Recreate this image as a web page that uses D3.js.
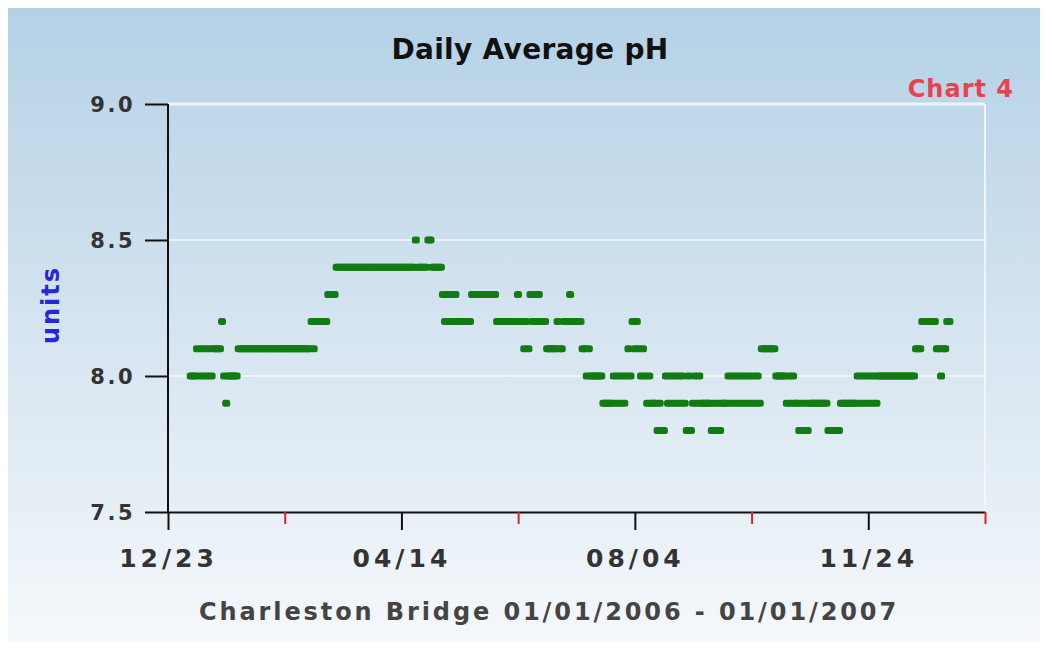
<!DOCTYPE html>
<html>
<head>
<meta charset="utf-8">
<script src="https://cdn.jsdelivr.net/npm/d3@7/dist/d3.min.js"></script>
<style>
  html, body { margin: 0; padding: 0; background: #ffffff; }
  svg { display: block; }
  text { font-family: "DejaVu Sans", Verdana, sans-serif; font-weight: bold; }
</style>
</head>
<body>
<svg id="chart" width="1046" height="649"></svg>
<script>
// ---- Data: daily average pH, Charleston Bridge, 2006 (one value per day) ----
const startDate = "2006-01-01";
const phJan = [8.0,8.0,8.0,8.1,8.0,8.1,8.0,8.1,8.0,8.1,8.0,8.1,8.1,8.1,8.1,8.2,8.0,7.9,8.0,8.0,8.0,8.0,8.0,8.1,8.1,8.1,8.1,8.1,8.1,8.1,8.1];
const phFeb = [8.1,8.1,8.1,8.1,8.1,8.1,8.1,8.1,8.1,8.1,8.1,8.1,8.1,8.1,8.1,8.1,8.1,8.1,8.1,8.1,8.1,8.1,8.1,8.1,8.1,8.1,8.1,8.2];
const phMar = [8.1,8.2,8.2,8.2,8.2,8.2,8.2,8.3,8.3,8.3,8.3,8.4,8.4,8.4,8.4,8.4,8.4,8.4,8.4,8.4,8.4,8.4,8.4,8.4,8.4,8.4,8.4,8.4,8.4,8.4,8.4];
const phApr = [8.4,8.4,8.4,8.4,8.4,8.4,8.4,8.4,8.4,8.4,8.4,8.4,8.4,8.4,8.4,8.4,8.4,8.4,8.5,8.4,8.4,8.4,8.4,8.4,8.5,8.5,8.4,8.4,8.4,8.4];
const phMay = [8.4,8.3,8.2,8.3,8.2,8.3,8.2,8.3,8.2,8.2,8.2,8.2,8.2,8.2,8.2,8.3,8.3,8.3,8.3,8.3,8.3,8.3,8.3,8.3,8.3,8.3,8.3,8.2,8.2,8.2,8.2];
const phJun = [8.2,8.2,8.2,8.2,8.2,8.2,8.3,8.2,8.2,8.1,8.2,8.1,8.3,8.2,8.3,8.2,8.3,8.2,8.2,8.2,8.1,8.1,8.1,8.1,8.1,8.2,8.1,8.1,8.2,8.2];
const phJul = [8.2,8.3,8.2,8.2,8.2,8.2,8.2,8.1,8.1,8.0,8.1,8.0,8.0,8.0,8.0,8.0,8.0,7.9,7.9,7.9,7.9,7.9,8.0,7.9,8.0,7.9,8.0,7.9,8.0,8.1,8.0];
const phAug = [8.2,8.1,8.2,8.1,8.0,8.1,8.0,7.9,8.0,7.9,7.9,7.9,7.8,7.9,7.8,7.8,8.0,7.9,8.0,7.9,8.0,7.9,8.0,7.9,8.0,7.9,7.8,8.0,7.8,7.9,8.0];
const phSep = [7.9,8.0,7.9,7.9,7.9,7.9,7.9,7.8,7.9,7.8,7.9,7.8,7.9,7.9,7.9,8.0,7.9,8.0,7.9,8.0,7.9,8.0,7.9,8.0,7.9,8.0,7.9,8.0,7.9,8.0];
const phOct = [7.9,8.1,8.1,8.1,8.1,8.1,8.1,8.1,8.0,8.0,8.0,8.0,8.0,7.9,8.0,7.9,8.0,7.9,7.9,7.8,7.9,7.8,7.9,7.8,7.9,7.9,7.9,7.9,7.9,7.9,7.9];
const phNov = [7.9,7.9,7.8,7.8,7.8,7.8,7.8,7.8,7.9,7.9,7.9,7.9,7.9,7.9,7.9,7.9,8.0,7.9,8.0,7.9,8.0,7.9,8.0,7.9,8.0,7.9,8.0,8.0,8.0,8.0];
const phDec = [8.0,8.0,8.0,8.0,8.0,8.0,8.0,8.0,8.0,8.0,8.0,8.0,8.0,8.0,8.1,8.1,8.1,8.2,8.2,8.2,8.2,8.2,8.2,8.2,8.1,8.1,8.0,8.1,8.1,8.2,8.2];

const yTickValues = [7.5, 8.0, 8.5, 9.0];
const yGridValues = [8.0, 8.5];
const xMajorTicks = ["2005-12-23", "2006-04-14", "2006-08-04", "2006-11-24"];
const xMajorLabels = ["12/23", "04/14", "08/04", "11/24"];
const xMinorTicks = ["2006-02-17", "2006-06-09", "2006-09-29", "2007-01-19"];

const chartTitle = "Daily Average pH";
const chartTag = "Chart 4";
const yTitle = "units";
const xTitle = "Charleston Bridge 01/01/2006 - 01/01/2007";

// ---- Build daily records ----
const allValues = [].concat(phJan, phFeb, phMar, phApr, phMay, phJun, phJul, phAug, phSep, phOct, phNov, phDec);
const parse = d3.utcParse("%Y-%m-%d");
const t0 = parse(startDate);
const data = allValues.map((v, i) => ({ date: d3.utcDay.offset(t0, i), value: v }));

// ---- Layout ----
const W = 1046, H = 649;
const plot = { left: 168, right: 985, top: 104, bottom: 512 };

const svg = d3.select("#chart");
const defs = svg.append("defs");
const bg = defs.append("linearGradient").attr("id", "bgGrad").attr("x1", 0).attr("y1", 0).attr("x2", 0).attr("y2", 1);
bg.append("stop").attr("offset", "0%").attr("stop-color", "#b4d1e6");
bg.append("stop").attr("offset", "55%").attr("stop-color", "#d8e6f1");
bg.append("stop").attr("offset", "100%").attr("stop-color", "#f5f8fb");

svg.append("rect").attr("x", 0).attr("y", 0).attr("width", W).attr("height", H).attr("fill", "#ffffff");
svg.append("rect").attr("x", 8).attr("y", 8).attr("width", 1032).attr("height", 634).attr("fill", "url(#bgGrad)");

const x = d3.scaleUtc()
  .domain([parse("2005-12-23"), parse("2007-01-19")])
  .range([plot.left, plot.right]);
const y = d3.scaleLinear()
  .domain([7.5, 9.0])
  .range([plot.bottom, plot.top]);

// plot frame (light) and grid
svg.append("line").attr("x1", plot.left).attr("x2", plot.right).attr("y1", plot.top).attr("y2", plot.top)
  .attr("stroke", "#eef4fa").attr("stroke-width", 3);
svg.append("line").attr("x1", plot.right).attr("x2", plot.right).attr("y1", plot.top).attr("y2", plot.bottom)
  .attr("stroke", "#f2f6fa").attr("stroke-width", 2);
svg.append("g").selectAll("line").data(yGridValues).join("line")
  .attr("x1", plot.left).attr("x2", plot.right)
  .attr("y1", d => y(d)).attr("y2", d => y(d))
  .attr("stroke", "#ffffff").attr("stroke-opacity", 0.75).attr("stroke-width", 1.5);

// ---- Axes ----
const yAxis = d3.axisLeft(y).tickValues(yTickValues).tickFormat(d3.format(".1f")).tickSize(23).tickSizeOuter(0).tickPadding(10);
const gy = svg.append("g").attr("transform", `translate(${plot.left},0)`).call(yAxis);
gy.select(".domain").remove();
gy.selectAll(".tick line").attr("stroke", "#111").attr("stroke-width", 2);
gy.selectAll(".tick text").attr("fill", "#333").style("font-size", "21px").style("letter-spacing", "2.5px").attr("dy", "0.36em");

svg.append("line").attr("x1", plot.left).attr("x2", plot.left).attr("y1", plot.top).attr("y2", plot.bottom)
  .attr("stroke", "#111").attr("stroke-width", 2);

const xAxis = d3.axisBottom(x).tickValues(xMajorTicks.map(parse))
  .tickFormat((d, i) => xMajorLabels[i]).tickSize(18).tickSizeOuter(0).tickPadding(19);
const gx = svg.append("g").attr("transform", `translate(0,${plot.bottom})`).call(xAxis);
gx.select(".domain").attr("stroke", "#111").attr("stroke-width", 2);
gx.selectAll(".tick line").attr("stroke", "#111").attr("stroke-width", 2);
gx.selectAll(".tick text").attr("fill", "#333").style("font-size", "25px").style("letter-spacing", "4px");

const xMinor = d3.axisBottom(x).tickValues(xMinorTicks.map(parse)).tickFormat("").tickSize(12).tickSizeOuter(0);
const gm = svg.append("g").attr("transform", `translate(0,${plot.bottom})`).call(xMinor);
gm.select(".domain").remove();
gm.selectAll(".tick line").attr("stroke", "#e0202c").attr("stroke-width", 2);

// ---- Points ----
svg.append("g").selectAll("rect").data(data).join("rect")
  .attr("x", d => x(d.date))
  .attr("y", d => y(d.value) - 3.5)
  .attr("width", 8)
  .attr("height", 7)
  .attr("rx", 2.5)
  .attr("fill", "#137b13");

// ---- Titles ----
svg.append("text").attr("x", 530).attr("y", 59).attr("text-anchor", "middle")
  .attr("fill", "#111").style("font-size", "28px").style("letter-spacing", "0.3px").text(chartTitle);
svg.append("text").attr("x", 1014).attr("y", 97).attr("text-anchor", "end")
  .attr("fill", "#e8424e").style("font-size", "24px").style("letter-spacing", "1px").text(chartTag);
svg.append("text").attr("transform", "translate(59,305) rotate(-90)").attr("text-anchor", "middle")
  .attr("fill", "#2626dc").style("font-size", "24px").style("letter-spacing", "2px").text(yTitle);
svg.append("text").attr("x", 549).attr("y", 620).attr("text-anchor", "middle")
  .attr("fill", "#444").style("font-size", "24px").style("letter-spacing", "2.9px").text(xTitle);
</script>
</body>
</html>
